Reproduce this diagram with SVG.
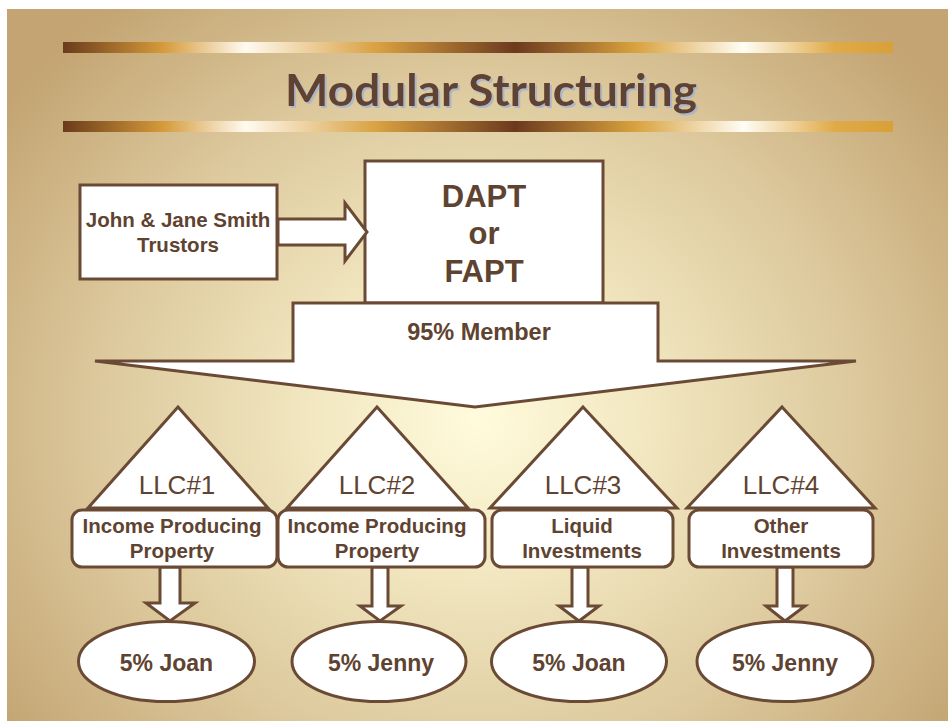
<svg xmlns="http://www.w3.org/2000/svg" width="948" height="721" viewBox="0 0 948 721">
  <defs>
    <radialGradient id="bg" gradientUnits="userSpaceOnUse" cx="478" cy="420" r="560" gradientTransform="translate(478 420) scale(1.05 0.95) translate(-478 -420)">
      <stop offset="0" stop-color="#fffbdc"/>
      <stop offset="0.3" stop-color="#f1e6bf"/>
      <stop offset="0.65" stop-color="#dcc89c"/>
      <stop offset="1" stop-color="#c3a472"/>
    </radialGradient>
    <linearGradient id="gold" gradientUnits="userSpaceOnUse" x1="63" y1="0" x2="893" y2="0">
      <stop offset="0" stop-color="#6a3b1c"/>
      <stop offset="0.12" stop-color="#d59a3a"/>
      <stop offset="0.22" stop-color="#fffaf0"/>
      <stop offset="0.38" stop-color="#d8a040"/>
      <stop offset="0.545" stop-color="#6b3a1e"/>
      <stop offset="0.69" stop-color="#d9a23e"/>
      <stop offset="0.82" stop-color="#fffdf5"/>
      <stop offset="0.93" stop-color="#e0aa48"/>
      <stop offset="1" stop-color="#d9a038"/>
    </linearGradient>
    <!-- soft blue-grey drop shadow under the heading -->
    <filter id="titleShadow" x="-5%" y="-20%" width="110%" height="150%">
      <feDropShadow dx="2" dy="2" stdDeviation="0.4" flood-color="#aeb6c8" flood-opacity="1"/>
    </filter>
  </defs>
  <style>
    .shape { fill: #ffffff; stroke: #6a4a35; stroke-width: 3; stroke-linejoin: miter; }
    .lbl { font-family: "Liberation Sans", Arial, sans-serif; font-weight: bold; fill: #5f4331; text-anchor: middle; }
    .llc { font-family: "Liberation Sans", Arial, sans-serif; font-weight: normal; font-size: 26px; fill: #5f4331; text-anchor: middle; }
    .sub { font-size: 20.5px; }
    .own { font-size: 23px; }
    .title { font-family: Lato, "Open Sans", sans-serif; font-weight: bold; font-size: 43px; text-anchor: middle; fill: #5e4330; }
  </style>

  <!-- backdrop -->
  <rect x="0" y="0" width="948" height="721" fill="#ffffff"/>
  <rect x="7" y="9" width="941" height="712" fill="url(#bg)"/>

  <!-- header bars and title -->
  <g id="header">
    <rect x="63" y="42" width="830" height="11" fill="url(#gold)"/>
    <rect x="63" y="121" width="830" height="11" fill="url(#gold)"/>
    <text class="title" x="491" y="106" textLength="412" lengthAdjust="spacingAndGlyphs" filter="url(#titleShadow)">Modular Structuring</text>
  </g>

  <g id="trustors">
    <rect class="shape" x="80" y="185" width="197" height="94"/>
    <text class="lbl" x="178" y="227" font-size="20.5">John &amp; Jane Smith</text>
    <text class="lbl" x="178" y="252" font-size="20.5">Trustors</text>
  </g>

  <g id="dapt">
    <rect class="shape" x="365" y="161" width="238" height="142"/>
    <text class="lbl" x="484" y="207" font-size="31">DAPT</text>
    <text class="lbl" x="484" y="244" font-size="31">or</text>
    <text class="lbl" x="484" y="282" font-size="31">FAPT</text>
  </g>

  <g id="member">
    <polygon class="shape" points="293,303 658,303 658,361 856,361 475,407 95,361 293,361"/>
    <text class="lbl" x="479" y="340" font-size="23.5">95% Member</text>
  </g>

  <g id="connectors">
    <polygon class="shape" points="278,219 345,219 345,203 367,232 345,261 345,245 278,245"/>
    <polygon class="shape" points="160,567 180,567 180,603 195,603 170,621 146,603 160,603"/>
    <polygon class="shape" points="372,567 388,567 388,606 401,606 380,621 360,606 372,606"/>
    <polygon class="shape" points="572,567 588,567 588,606 599,606 579,621 559,606 572,606"/>
    <polygon class="shape" points="777,567 793,567 793,606 805,606 785,621 766,606 777,606"/>
  </g>

  <g id="llc1">
    <polygon class="shape" points="178,407 268,508 88,508"/>
    <rect class="shape" x="72" y="510" width="205" height="57" rx="10"/>
    <text class="llc" x="177" y="494">LLC#1</text>
    <text class="lbl sub" x="172" y="533">Income Producing</text>
    <text class="lbl sub" x="172" y="558">Property</text>
  </g>

  <g id="llc2">
    <polygon class="shape" points="377,407 468,508 287,508"/>
    <rect class="shape" x="278" y="510" width="207" height="57" rx="10"/>
    <text class="llc" x="377" y="494">LLC#2</text>
    <text class="lbl sub" x="377" y="533">Income Producing</text>
    <text class="lbl sub" x="377" y="558">Property</text>
  </g>

  <g id="llc3">
    <polygon class="shape" points="583,407 677,508 490,508"/>
    <rect class="shape" x="492" y="510" width="181" height="57" rx="10"/>
    <text class="llc" x="583" y="494">LLC#3</text>
    <text class="lbl sub" x="582" y="533">Liquid</text>
    <text class="lbl sub" x="582" y="558">Investments</text>
  </g>

  <g id="llc4">
    <polygon class="shape" points="782,407 875,508 687,508"/>
    <rect class="shape" x="689" y="510" width="184" height="57" rx="10"/>
    <text class="llc" x="781" y="494">LLC#4</text>
    <text class="lbl sub" x="781" y="533">Other</text>
    <text class="lbl sub" x="781" y="558">Investments</text>
  </g>

  <g id="joan1">
    <ellipse class="shape" cx="166.5" cy="661.5" rx="88" ry="40"/>
    <text class="lbl own" x="166.5" y="671">5% Joan</text>
  </g>
  <g id="jenny1">
    <ellipse class="shape" cx="379" cy="661.5" rx="87" ry="40"/>
    <text class="lbl own" x="381" y="671">5% Jenny</text>
  </g>
  <g id="joan2">
    <ellipse class="shape" cx="579" cy="661.5" rx="87.5" ry="40"/>
    <text class="lbl own" x="579" y="671">5% Joan</text>
  </g>
  <g id="jenny2">
    <ellipse class="shape" cx="785" cy="661.5" rx="88" ry="40"/>
    <text class="lbl own" x="785" y="671">5% Jenny</text>
  </g>
</svg>
